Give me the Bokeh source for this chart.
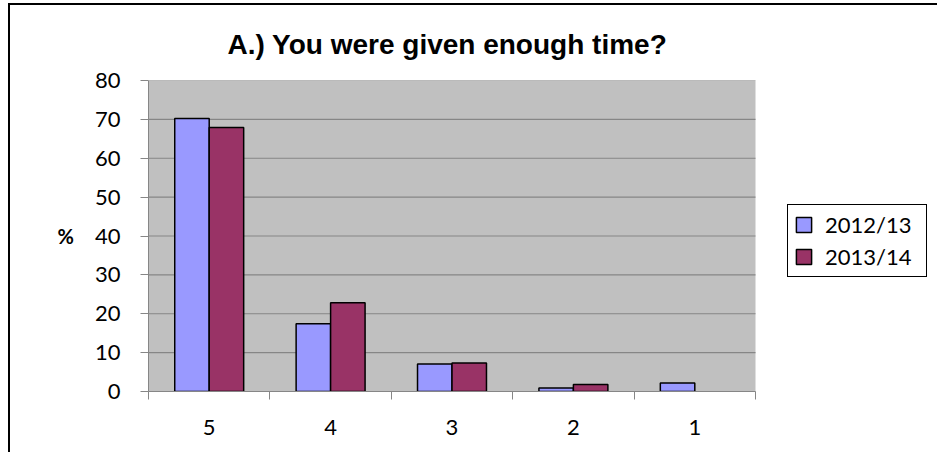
from bokeh.plotting import figure
from bokeh.models import Range1d, FixedTicker, Legend, LegendItem, ColumnDataSource
from bokeh.embed import file_html
from bokeh.resources import INLINE
import numpy as np

categories = ["5", "4", "3", "2", "1"]
series_names = ["2012/13", "2013/14"]
values_2012 = [70.2, 17.4, 7.1, 0.9, 2.2]
values_2013 = [67.9, 22.8, 7.3, 1.8, 0.0]
y_ticks = [0, 10, 20, 30, 40, 50, 60, 70, 80]

colors = ["#9999FF", "#993366"]
bar_w = 0.284
n = len(categories)

centers = np.arange(n) + 0.5

# the frame extends to the right edge so the legend can sit there;
# the data area (0..n) keeps its 607px width
frame_w = 791
data_w = 607
x_end = n * frame_w / data_w
axis_gray = "#868686"


def bar_source(vals, offset):
    xs = [c + offset for c, v in zip(centers, vals) if v > 0]
    tops = [v for v in vals if v > 0]
    return ColumnDataSource(dict(x=xs, top=tops))


p = figure(width=929, height=449, output_backend="svg", toolbar_location=None,
           x_range=Range1d(0, x_end), y_range=Range1d(0, 80),
           min_border_left=138, min_border_right=0, min_border_top=75, min_border_bottom=63)

p.background_fill_color = "white"
p.border_fill_color = "white"
p.outline_line_color = None
p.styles = {"border-top": "2px solid black", "border-left": "2px solid black",
            "margin-left": "8px", "margin-top": "3px"}

# gray plot area limited to the data region
p.quad(left=[0], right=[n], bottom=[0], top=[80], fill_color="#C0C0C0",
       line_color=None, level="image")

# grid lines limited to the data region
p.xgrid.visible = False
p.ygrid.visible = False
p.segment(x0=[0] * len(y_ticks), x1=[n] * len(y_ticks), y0=y_ticks, y1=y_ticks,
          line_color=axis_gray, line_width=1.2, level="underlay")

r1 = p.vbar(x="x", top="top", width=bar_w, bottom=0, source=bar_source(values_2012, -bar_w / 2),
            fill_color=colors[0], line_color="black", line_width=1.5)
r2 = p.vbar(x="x", top="top", width=bar_w, bottom=0, source=bar_source(values_2013, bar_w / 2),
            fill_color=colors[1], line_color="black", line_width=1.5)

# title
p.title.text = "A.) You were given enough time?"
p.title.text_font = "Liberation Sans"
p.title.text_font_style = "bold"
p.title.text_font_size = "28px"
p.title.text_color = "black"
p.title.align = "left"
p.title.offset = 79
p.title.standoff = 42

# y axis
p.yaxis.ticker = FixedTicker(ticks=y_ticks)
p.yaxis.axis_line_color = axis_gray
p.yaxis.major_tick_line_color = axis_gray
p.yaxis.major_tick_out = 8
p.yaxis.major_tick_in = 0
p.yaxis.minor_tick_line_color = None
p.yaxis.major_label_text_font = "Lato"
p.yaxis.major_label_text_font_size = "22px"
p.yaxis.major_label_text_color = "black"
p.yaxis.major_label_standoff = 20
p.yaxis.axis_label = "%"
p.yaxis.axis_label_orientation = "horizontal"
p.yaxis.axis_label_text_font = "Lato"
p.yaxis.axis_label_text_font_style = "bold"
p.yaxis.axis_label_text_font_size = "20px"
p.yaxis.axis_label_text_color = "black"
p.yaxis.axis_label_standoff = 18

# x axis
p.xaxis.ticker = FixedTicker(ticks=list(centers), minor_ticks=list(range(n + 1)))
p.xaxis.bounds = (0, n)
p.xaxis.major_label_overrides = {float(c): lab for c, lab in zip(centers, categories)}
p.xaxis.axis_line_color = axis_gray
p.xaxis.major_tick_line_color = None
p.xaxis.major_tick_out = 0
p.xaxis.major_tick_in = 0
p.xaxis.minor_tick_line_color = axis_gray
p.xaxis.minor_tick_out = 8
p.xaxis.minor_tick_in = 0
p.xaxis.major_label_text_font = "Lato"
p.xaxis.major_label_text_font_size = "22px"
p.xaxis.major_label_text_color = "black"
p.xaxis.major_label_standoff = 20

legend = Legend(items=[LegendItem(label=series_names[0], renderers=[r1]),
                       LegendItem(label=series_names[1], renderers=[r2])],
                location=(639, 114))
legend.border_line_color = "black"
legend.border_line_alpha = 1.0
legend.border_line_width = 1.5
legend.background_fill_color = "white"
legend.background_fill_alpha = 1.0
legend.padding = 6
legend.spacing = 5
legend.glyph_width = 19
legend.glyph_height = 19
legend.label_height = 24
legend.label_standoff = 12
legend.label_width = 95
legend.label_text_font = "Lato"
legend.label_text_font_size = "22px"
legend.label_text_color = "black"
legend.margin = 0
p.add_layout(legend, "center")

open("out.html", "w").write(file_html(p, INLINE))
